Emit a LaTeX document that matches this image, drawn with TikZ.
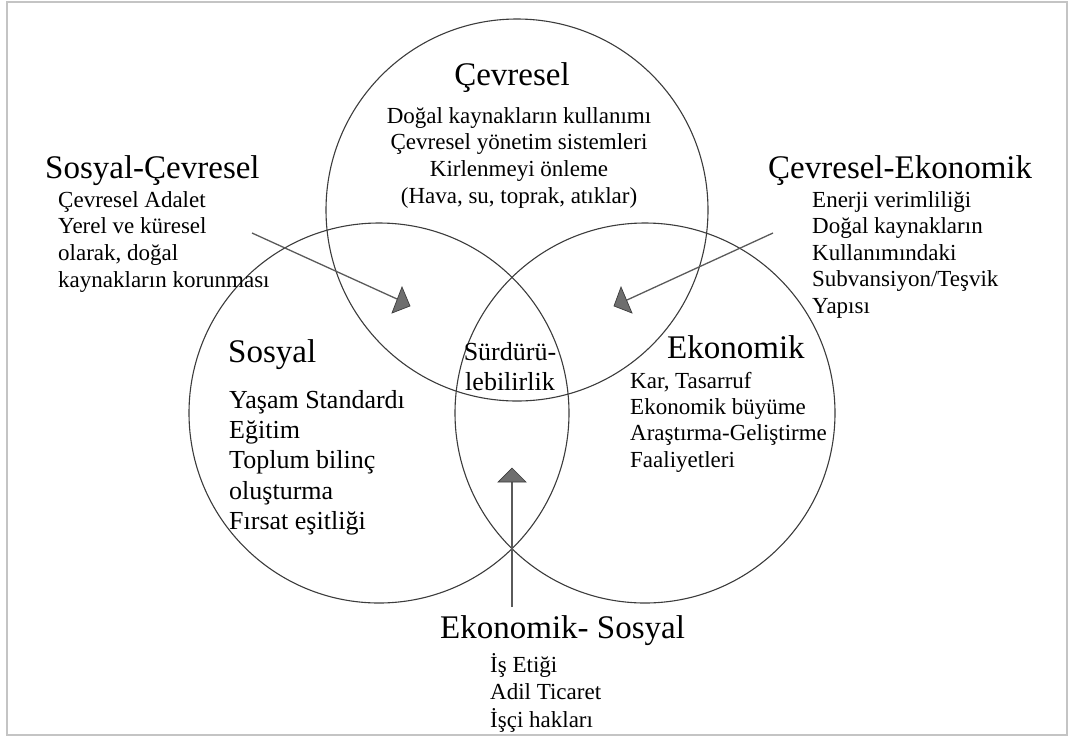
\documentclass[tikz,border=0pt]{standalone}
\usepackage{fontspec}
\setmainfont{Liberation Serif}

\definecolor{ringgray}{HTML}{3C3C3C}
\definecolor{linegray}{HTML}{5A5A5A}
\definecolor{markgray}{HTML}{6E6E6E}
\definecolor{framegray}{HTML}{C4C4C4}

\tikzset{
  ring/.style={circle, draw=ringgray, line width=1.1pt, minimum size=380pt, inner sep=0pt},
  topring/.style={ring, minimum size=382pt},
  heading/.style={font=\fontsize{33}{38}\selectfont, inner sep=0pt},
  item/.style={font=\fontsize{23}{27}\selectfont, inner sep=0pt, anchor=base west},
  centreitem/.style={font=\fontsize{23}{27}\selectfont, inner sep=0pt, anchor=base},
  largeitem/.style={font=\fontsize{26}{30}\selectfont, inner sep=0pt, anchor=base west},
  coreitem/.style={font=\fontsize{26}{30}\selectfont, inner sep=0pt, anchor=base},
  pointer/.style={draw=linegray, line width=1.3pt},
  marker/.style={fill=markgray, draw=ringgray, line width=0.7pt, line join=miter}
}

\begin{document}
\begin{tikzpicture}[x=1pt, y=-1pt]
  % page and frame
  \useasboundingbox (0,0) rectangle (1069,740);
  \draw[framegray, line width=2pt] (7,2) rectangle (1067,735);

  % the three pillars
  \node[topring] (cevre) at (517,210) {};
  \node[ring] (sosyal) at (379,413) {};
  \node[ring] (ekonomi) at (645,413) {};

  % pointers towards the overlaps
  \coordinate (scfrom) at (252,233);
  \coordinate (scto)   at (397,299);
  \coordinate (cefrom) at (773,233);
  \coordinate (ceto)   at (627,300);
  \coordinate (esfrom) at (512,607);
  \coordinate (esto)   at (512,482);
  \draw[pointer] (scfrom) -- (scto);
  \draw[pointer] (cefrom) -- (ceto);
  \draw[pointer] (esfrom) -- (esto);
  \filldraw[marker] (402,287) -- (392,313) -- (410,306) -- cycle;
  \filldraw[marker] (621,287) -- (614,306) -- (632,313) -- cycle;
  \filldraw[marker] (512,468) -- (498,482) -- (526,482) -- cycle;

  % Çevresel
  \node[heading, anchor=base] (cevtitle) at (512,85) {Çevresel};
  \foreach \txt [count=\k from 0] in {{Doğal kaynakların kullanımı},{Çevresel yönetim sistemleri},{Kirlenmeyi önleme},{(Hava, su, toprak, atıklar)}}
    \node[centreitem] (cev\k) at (519,123+26.7*\k) {\txt};

  % Sosyal-Çevresel
  \node[heading, anchor=base west] (sctitle) at (45,178) {Sosyal-Çevresel};
  \foreach \txt [count=\k from 0] in {{Çevresel Adalet},{Yerel ve küresel},{olarak, doğal},{kaynakların korunması}}
    \node[item] (sc\k) at (58,207+26.7*\k) {\txt};

  % Çevresel-Ekonomik
  \node[heading, anchor=base west] (cetitle) at (768,178) {Çevresel-Ekonomik};
  \foreach \txt [count=\k from 0] in {{Enerji verimliliği},{Doğal kaynakların},{Kullanımındaki},{Subvansiyon/Teşvik},{Yapısı}}
    \node[item] (ce\k) at (812,207+26.6*\k) {\txt};

  % Sosyal
  \node[heading, anchor=base west] (sostitle) at (228,362) {Sosyal};
  \foreach \txt [count=\k from 0] in {{Yaşam Standardı},{Eğitim},{Toplum bilinç},{oluşturma},{Fırsat eşitliği}}
    \node[largeitem] (sos\k) at (229,408+30.4*\k) {\txt};

  % Ekonomik
  \node[heading, anchor=base west] (ekotitle) at (667,358) {Ekonomik};
  \foreach \txt [count=\k from 0] in {{Kar, Tasarruf},{Ekonomik büyüme},{Araştırma-Geliştirme},{Faaliyetleri}}
    \node[item] (eko\k) at (630,388+26.4*\k) {\txt};

  % centre of the overlap
  \node[coreitem] (core0) at (510,360) {Sürdürü-};
  \node[coreitem] (core1) at (510,390) {lebilirlik};

  % Ekonomik- Sosyal
  \node[heading, anchor=base west] (estitle) at (440,638) {Ekonomik- Sosyal};
  \foreach \txt [count=\k from 0] in {{İş Etiği},{Adil Ticaret},{İşçi hakları}}
    \node[item] (es\k) at (490,672+27.5*\k) {\txt};
\end{tikzpicture}
\end{document}
